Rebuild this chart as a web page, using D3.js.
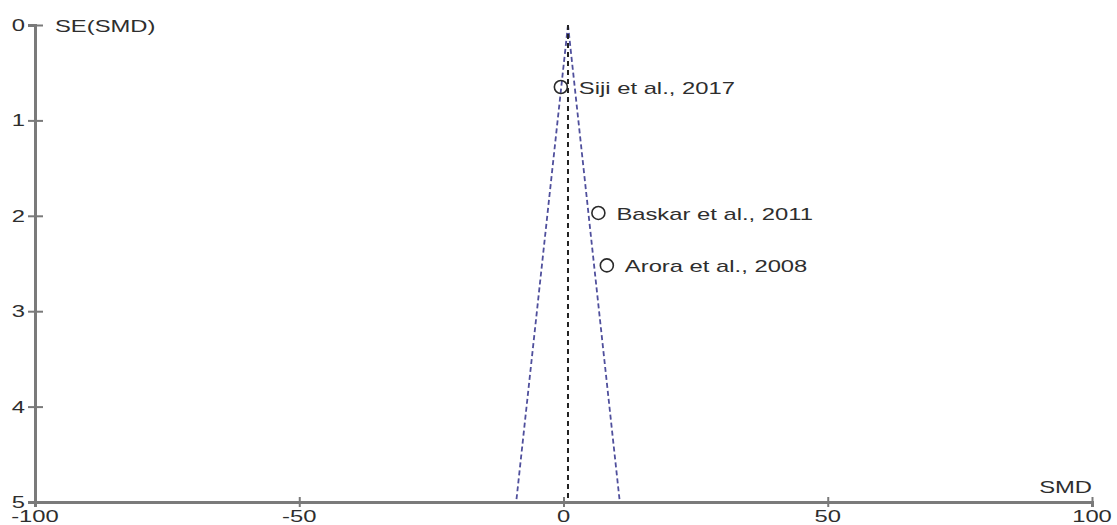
<!DOCTYPE html>
<html>
<head>
<meta charset="utf-8">
<script src="https://cdn.jsdelivr.net/npm/d3@7"></script>
<style>
  html, body { margin: 0; padding: 0; background: #fff; }
  svg { display: block; }
  text { font-family: "Liberation Sans", Arial, sans-serif; fill: #2e2e2e; }
</style>
</head>
<body>
<svg id="chart" width="1117" height="525"></svg>
<script>
// Funnel plot of standardized mean differences
const studies = ["Siji et al., 2017", "Baskar et al., 2011", "Arora et al., 2008"];
const smd = [-0.5, 6.6, 8.2];
const se = [0.65, 1.97, 2.52];
const pooled = 0.85;
const xTicks = [-100, -50, 0, 50, 100];
const yTicks = [0, 1, 2, 3, 4, 5];

const svg = d3.select("#chart");
const x = d3.scaleLinear().domain([-100, 100]).range([35, 1092]);
const y = d3.scaleLinear().domain([0, 5]).range([25, 502]);

const axisColor = "#7a7a7a";
const fontSize = 17;
const stretch = 1.4; // wide lettering

// text helper: places a horizontally widened label at (px, py)
function label(parent, px, py, str, anchor) {
  return parent.append("text")
    .attr("transform", `translate(${px},${py}) scale(${stretch},1)`)
    .attr("text-anchor", anchor || "start")
    .attr("font-size", fontSize)
    .text(str);
}

// y axis
const yAxis = svg.append("g").attr("transform", `translate(${x(-100)},0)`)
  .call(d3.axisLeft(y).tickValues(yTicks).tickSize(7).tickFormat(""));
yAxis.select(".domain").attr("stroke", axisColor).attr("stroke-width", 3);
yAxis.selectAll(".tick line").attr("stroke", axisColor).attr("stroke-width", 2).attr("x1", -7).attr("x2", 8);
yTicks.forEach(t => label(svg, x(-100) - 10, y(t) + 6, String(t), "end"));

// x axis
const xAxis = svg.append("g").attr("transform", `translate(0,${y(5)})`)
  .call(d3.axisBottom(x).tickValues(xTicks).tickSize(5).tickFormat(""));
xAxis.select(".domain").attr("stroke", axisColor).attr("stroke-width", 3);
xAxis.selectAll(".tick line").attr("stroke", axisColor).attr("stroke-width", 2).attr("y1", -5).attr("y2", 5);
xTicks.forEach(t => label(svg, x(t), y(5) + 20, String(t), "middle"));

// axis titles
label(svg, 55, 32, "SE(SMD)");
label(svg, x(100), 493, "SMD", "end");

// pseudo 95% confidence limits
const seMax = 5;
const funnel = [
  [[pooled, 0], [pooled - 1.96 * seMax, seMax]],
  [[pooled, 0], [pooled + 1.96 * seMax, seMax]]
];
const line = d3.line().x(d => x(d[0])).y(d => y(d[1]));
svg.selectAll(".limit").data(funnel).enter().append("path")
  .attr("d", line).attr("fill", "none").attr("stroke", "#4f4f9c")
  .attr("stroke-width", 1.8).attr("stroke-dasharray", "5,3");

// pooled estimate
svg.append("path").attr("d", line([[pooled, 0], [pooled, seMax]]))
  .attr("fill", "none").attr("stroke", "#222").attr("stroke-width", 2).attr("stroke-dasharray", "5,4");

// studies
const pts = studies.map((s, i) => ({ name: s, smd: smd[i], se: se[i] }));
const g = svg.selectAll(".study").data(pts).enter().append("g");
g.append("circle").attr("cx", d => x(d.smd)).attr("cy", d => y(d.se)).attr("r", 6.5)
  .attr("fill", "none").attr("stroke", "#2a2a2a").attr("stroke-width", 1.6);
g.each(function (d) {
  label(d3.select(this), x(d.smd) + 18, y(d.se) + 7, d.name);
});
</script>
</body>
</html>
